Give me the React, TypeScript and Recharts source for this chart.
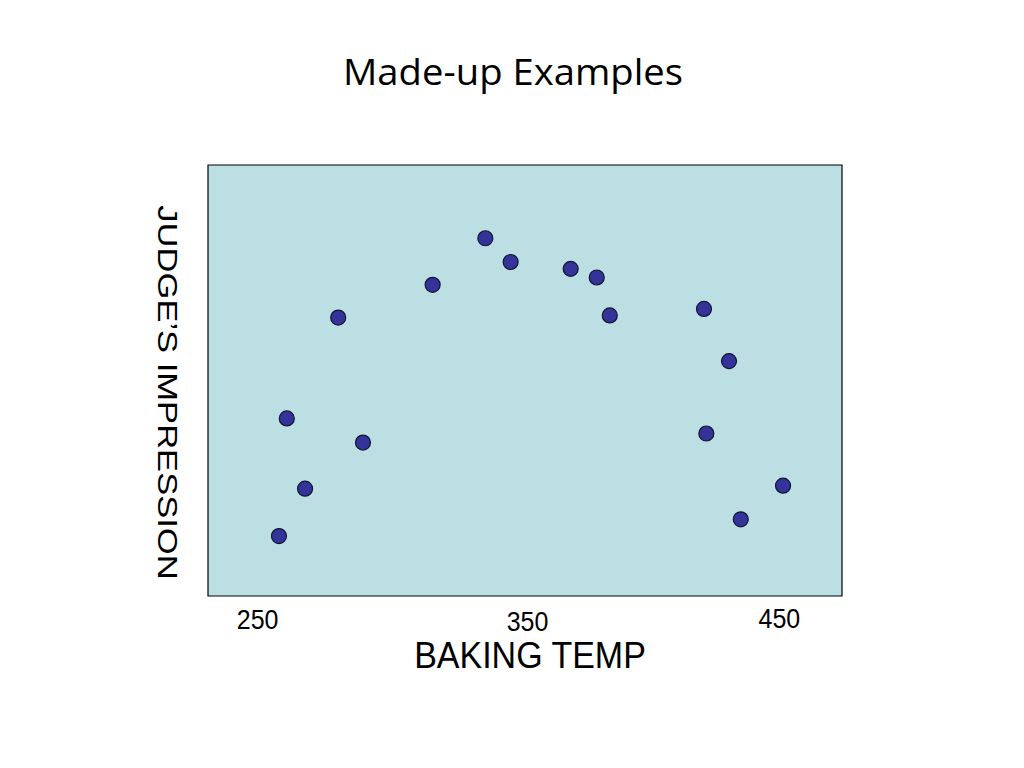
import { ScatterChart, Scatter, XAxis, YAxis, ReferenceArea } from "recharts";

// baking temperature vs judge's score (made-up)
const temps = [258.2, 261.2, 268.2, 280.9, 290.4, 317.1, 337.3, 347.0, 370.0, 380.0, 385.0, 421.1, 422.0, 430.7, 435.2, 451.4];
const impressions = [13.9, 41.2, 24.9, 64.6, 35.6, 72.2, 83.0, 77.5, 75.9, 73.9, 65.1, 66.6, 37.7, 54.5, 17.8, 25.6];
const tempTicks = [250, 350, 450];

const data = temps.map((t, i) => ({ temp: t, score: impressions[i] }));

const font = "'Liberation Sans', Arial, sans-serif";

// the tick labels on the slide are hand placed, a bit off the grid
const nudge: Record<number, [number, number]> = { 250: [0, 0], 350: [9, 2], 450: [0, -1] };

function TempTick(props: any) {
  const { x, y, payload } = props;
  const [dx, dy] = nudge[payload.value] ?? [0, 0];
  return (
    <text transform={`translate(${x + dx},${y + 33 + dy}) scale(1,1.1)`} textAnchor="middle" fontSize={25} fontFamily={font} fill="#000">
      {payload.value}
    </text>
  );
}

function Dot(props: any) {
  return <circle cx={props.cx} cy={props.cy} r={7.5} fill="#333399" stroke="#141432" strokeWidth={1.2} />;
}

export default function App() {
  return (
    <div style={{ position: "absolute", left: 0, top: 0, width: 1024, height: 768, background: "#fff" }}>
      <svg width={1024} height={120} style={{ position: "absolute", left: 0, top: 0 }}>
        <text
          x={513}
          y={85}
          textAnchor="middle"
          fontSize={37}
          fontFamily="'Comic Sans MS', 'Open Sans', sans-serif"
          textLength={340}
          lengthAdjust="spacingAndGlyphs"
          fill="#000"
        >
          Made-up Examples
        </text>
      </svg>
      <ScatterChart width={1024} height={768} margin={{ top: 165, right: 182, bottom: 82, left: 148 }}>
        <XAxis
          type="number"
          dataKey="temp"
          domain={[231, 474]}
          ticks={tempTicks}
          axisLine={false}
          tickLine={false}
          tickSize={0}
          tickMargin={0}
          height={90}
          tick={<TempTick />}
          label={{
            content: (p: any) => {
              const vb = p.viewBox;
              return (
                <text transform={`translate(${vb.x + vb.width / 2 + 5},${vb.y + 72}) scale(1,1.1)`} textAnchor="middle" fontSize={34} fontFamily={font} fill="#000">
                  BAKING TEMP
                </text>
              );
            },
          }}
        />
        <YAxis
          type="number"
          dataKey="score"
          domain={[0, 100]}
          width={60}
          axisLine={false}
          tickLine={false}
          tick={false}
          label={{
            content: (p: any) => {
              const vb = p.viewBox;
              return (
                <text transform={`translate(${vb.x + 19},${vb.y + vb.height / 2 + 12}) scale(1,1.28) rotate(90)`} textAnchor="middle" dominantBaseline="central" fontSize={27} fontFamily={font} fill="#000">
                  JUDGE’S IMPRESSION
                </text>
              );
            },
          }}
        />
        <ReferenceArea x1={231} x2={474} y1={0} y2={100} fill="#BBDFE2" fillOpacity={1} stroke="#000" strokeWidth={1.2} />
        <Scatter data={data} shape={<Dot />} isAnimationActive={false} />
      </ScatterChart>
    </div>
  );
}
